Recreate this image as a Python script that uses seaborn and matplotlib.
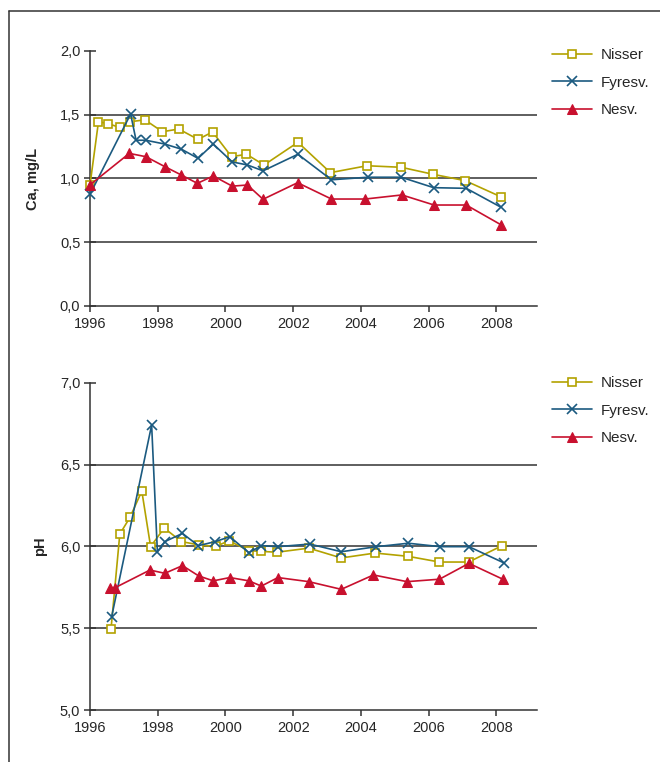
import matplotlib
matplotlib.use("Agg")
import matplotlib.pyplot as plt
from matplotlib.lines import Line2D
from matplotlib.ticker import FuncFormatter
import seaborn as sns
import pandas as pd

# ---- Ca data (top panel) ----
ca_nisser_x = [1996.0, 1996.25, 1996.54, 1996.88, 1997.18, 1997.62, 1998.14, 1998.62, 1999.19, 1999.62,
               2000.18, 2000.62, 2001.14, 2002.14, 2003.1, 2004.18, 2005.19, 2006.13, 2007.08, 2008.13]
ca_nisser_y = [0.95, 1.445, 1.43, 1.40, 1.445, 1.46, 1.367, 1.388, 1.307, 1.365,
               1.171, 1.19, 1.106, 1.284, 1.046, 1.10, 1.088, 1.033, 0.983, 0.857]
ca_fyresv_x = [1996.0, 1997.2, 1997.36, 1997.65, 1998.21, 1998.7, 1999.19, 1999.64, 2000.2, 2000.65,
               2001.11, 2002.14, 2003.13, 2004.21, 2005.19, 2006.15, 2007.11, 2008.14]
ca_fyresv_y = [0.876, 1.506, 1.30, 1.30, 1.27, 1.23, 1.158, 1.27, 1.13, 1.106,
               1.06, 1.19, 0.99, 1.01, 1.01, 0.928, 0.923, 0.774]
ca_nesv_x = [1996.0, 1997.16, 1997.65, 1998.21, 1998.7, 1999.17, 1999.64, 2000.2, 2000.65, 2001.11,
             2002.13, 2003.13, 2004.13, 2005.21, 2006.16, 2007.11, 2008.15]
ca_nesv_y = [0.95, 1.197, 1.171, 1.093, 1.027, 0.962, 1.02, 0.94, 0.949, 0.837,
             0.967, 0.839, 0.839, 0.871, 0.792, 0.792, 0.635]

# ---- pH data (bottom panel) ----
ph_nisser_x = [1996.62, 1996.88, 1997.18, 1997.53, 1997.79, 1998.19, 1998.7, 1999.21, 1999.71, 2000.1,
               2000.69, 2001.06, 2001.52, 2002.46, 2003.42, 2004.42, 2005.39, 2006.32, 2007.18, 2008.17]
ph_nisser_y = [5.494, 6.076, 6.178, 6.339, 5.999, 6.113, 6.03, 6.01, 6.0, 6.035,
               5.975, 5.97, 5.965, 5.99, 5.93, 5.96, 5.94, 5.905, 5.905, 6.005]
ph_fyresv_x = [1996.64, 1997.82, 1997.99, 1998.21, 1998.73, 1999.2, 1999.7, 2000.13, 2000.69, 2001.06,
               2001.55, 2002.49, 2003.42, 2004.46, 2005.4, 2006.34, 2007.19, 2008.22]
ph_fyresv_y = [5.571, 6.743, 5.968, 6.03, 6.08, 6.005, 6.03, 6.06, 5.962, 6.005,
               5.999, 6.015, 5.968, 5.999, 6.02, 5.999, 5.999, 5.90]
ph_nesv_x = [1996.59, 1996.74, 1997.77, 1998.21, 1998.73, 1999.21, 1999.64, 2000.13, 2000.69, 2001.06,
             2001.55, 2002.46, 2003.42, 2004.37, 2005.36, 2006.32, 2007.19, 2008.19]
ph_nesv_y = [5.748, 5.748, 5.856, 5.836, 5.883, 5.82, 5.79, 5.81, 5.79, 5.758,
             5.81, 5.785, 5.738, 5.826, 5.785, 5.80, 5.897, 5.80]

series_names = ["Nisser", "Fyresv.", "Nesv."]
x_ticks = [1996, 1998, 2000, 2002, 2004, 2006, 2008]
ca_ticks = [0.0, 0.5, 1.0, 1.5, 2.0]
ph_ticks = [5.0, 5.5, 6.0, 6.5, 7.0]

colors = {"Nisser": "#b3a200", "Fyresv.": "#1b5a80", "Nesv.": "#c8102e"}
mstyle = {
    "Nisser": dict(marker="s", markersize=5.8, markerfacecolor="white",
                   markeredgecolor="#b3a200", markeredgewidth=1.2),
    "Fyresv.": dict(marker="x", markersize=7, markeredgewidth=1.2,
                    markeredgecolor="#1b5a80"),
    "Nesv.": dict(marker="^", markersize=7.5, markerfacecolor="#c8102e",
                  markeredgecolor="#c8102e"),
}

sns.set_theme(style="white")
plt.rcParams["font.family"] = ["Liberation Sans", "DejaVu Sans"]

fig = plt.figure(figsize=(6.6, 7.62), dpi=100)
ax1 = fig.add_axes([90 / 660, 1 - 306 / 762, 447 / 660, 255 / 762])
ax2 = fig.add_axes([90 / 660, 1 - 710 / 762, 447 / 660, 327 / 762])

comma = FuncFormatter(lambda v, p: f"{v:.1f}".replace(".", ","))


def draw(ax, data, yticks, ylabel, leg_y, lpad):
    for name, (xs, ys) in zip(series_names, data):
        df = pd.DataFrame({"x": xs, "y": ys})
        sns.lineplot(data=df, x="x", y="y", ax=ax, color=colors[name], lw=1.2,
                     sort=False, estimator=None, label=name, clip_on=False,
                     zorder=3, **mstyle[name])
    ax.set_xlim(1996, 2009.2)
    ax.set_ylim(yticks[0], yticks[-1])
    ax.set_xticks(x_ticks)
    ax.set_yticks(yticks)
    ax.yaxis.set_major_formatter(comma)
    for t in yticks[1:-1]:
        ax.axhline(t, color="#333333", lw=1.1, zorder=1)
    for s in ["top", "right"]:
        ax.spines[s].set_visible(False)
    for s in ["left", "bottom"]:
        ax.spines[s].set_color("#333333")
        ax.spines[s].set_linewidth(1.1)
    ax.tick_params(axis="y", direction="inout", length=8, width=1.1, color="#333333",
                   labelsize=10.5, pad=3, left=True)
    ax.tick_params(axis="x", direction="out", length=4, width=1.1, color="#333333",
                   labelsize=10.5, pad=4, bottom=True)
    ax.set_xlabel("")
    ax.set_ylabel(ylabel, fontsize=10.5, fontweight="bold", labelpad=lpad)
    leg = ax.legend(loc="upper left", bbox_to_anchor=(552 / 660, leg_y),
                    bbox_transform=fig.transFigure, frameon=False, fontsize=11,
                    handlelength=2.6, handletextpad=0.6, labelspacing=0.9,
                    borderaxespad=0, borderpad=0)
    return leg


draw(ax1, [(ca_nisser_x, ca_nisser_y), (ca_fyresv_x, ca_fyresv_y), (ca_nesv_x, ca_nesv_y)],
     ca_ticks, "Ca, mg/L", 1 - 48 / 762, 14)
draw(ax2, [(ph_nisser_x, ph_nisser_y), (ph_fyresv_x, ph_fyresv_y), (ph_nesv_x, ph_nesv_y)],
     ph_ticks, "pH", 1 - 376 / 762, 9)

# outer frame (left and top edges visible)
fig.add_artist(Line2D([8.5 / 660, 8.5 / 660], [0, 1 - 10.5 / 762], transform=fig.transFigure,
                      color="#333333", lw=1.1))
fig.add_artist(Line2D([8.5 / 660, 1], [1 - 10.5 / 762, 1 - 10.5 / 762], transform=fig.transFigure,
                      color="#333333", lw=1.1))

fig.savefig("out.png", dpi=100, facecolor="white")
